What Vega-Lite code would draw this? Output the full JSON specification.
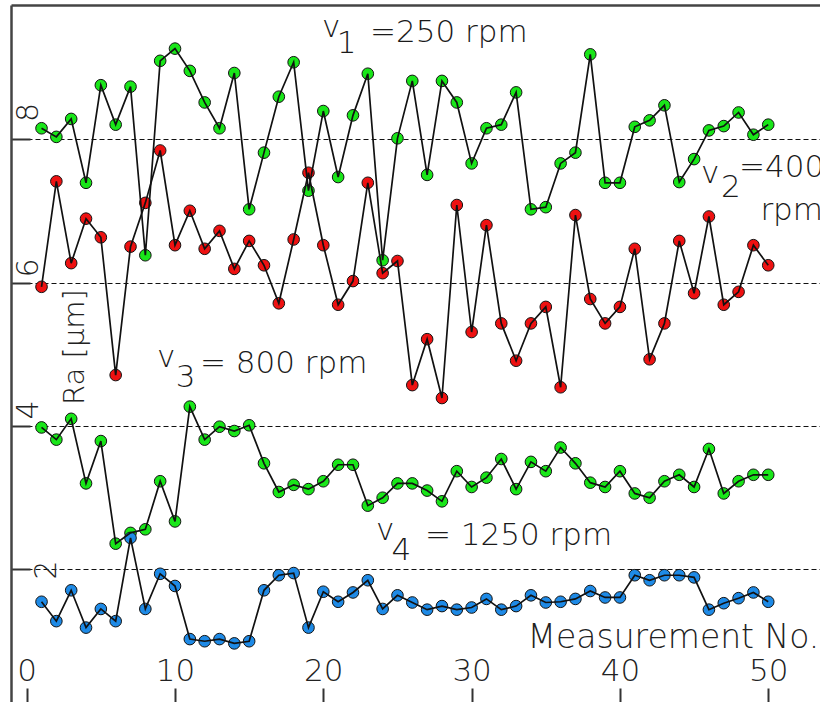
{
  "$schema": "https://vega.github.io/schema/vega-lite/v6.json",
  "width": 809,
  "height": 697,
  "autosize": {"type": "none"},
  "padding": {"left": 11, "top": 5, "right": 0, "bottom": 0},
  "background": "white",
  "config": {"view": {"stroke": null}, "font": "DejaVu Sans"},
  "datasets": {
    "series": [
      {"s":"v1","n":1,"v":8.15},{"s":"v1","n":2,"v":8.03},{"s":"v1","n":3,"v":8.28},{"s":"v1","n":4,"v":7.39},{"s":"v1","n":5,"v":8.75},
      {"s":"v1","n":6,"v":8.20},{"s":"v1","n":7,"v":8.73},{"s":"v1","n":8,"v":6.38},{"s":"v1","n":9,"v":9.09},{"s":"v1","n":10,"v":9.26},
      {"s":"v1","n":11,"v":8.95},{"s":"v1","n":12,"v":8.51},{"s":"v1","n":13,"v":8.15},{"s":"v1","n":14,"v":8.92},{"s":"v1","n":15,"v":7.02},
      {"s":"v1","n":16,"v":7.81},{"s":"v1","n":17,"v":8.59},{"s":"v1","n":18,"v":9.07},{"s":"v1","n":19,"v":7.28},{"s":"v1","n":20,"v":8.39},
      {"s":"v1","n":21,"v":7.47},{"s":"v1","n":22,"v":8.33},{"s":"v1","n":23,"v":8.91},{"s":"v1","n":24,"v":6.31},{"s":"v1","n":25,"v":8.01},
      {"s":"v1","n":26,"v":8.81},{"s":"v1","n":27,"v":7.50},{"s":"v1","n":28,"v":8.81},{"s":"v1","n":29,"v":8.51},{"s":"v1","n":30,"v":7.66},
      {"s":"v1","n":31,"v":8.15},{"s":"v1","n":32,"v":8.20},{"s":"v1","n":33,"v":8.65},{"s":"v1","n":34,"v":7.02},{"s":"v1","n":35,"v":7.05},
      {"s":"v1","n":36,"v":7.66},{"s":"v1","n":37,"v":7.81},{"s":"v1","n":38,"v":9.18},{"s":"v1","n":39,"v":7.39},{"s":"v1","n":40,"v":7.39},
      {"s":"v1","n":41,"v":8.17},{"s":"v1","n":42,"v":8.26},{"s":"v1","n":43,"v":8.47},{"s":"v1","n":44,"v":7.40},{"s":"v1","n":45,"v":7.72},
      {"s":"v1","n":46,"v":8.12},{"s":"v1","n":47,"v":8.18},{"s":"v1","n":48,"v":8.37},{"s":"v1","n":49,"v":8.06},{"s":"v1","n":50,"v":8.20},

      {"s":"v2","n":1,"v":5.94},{"s":"v2","n":2,"v":7.41},{"s":"v2","n":3,"v":6.27},{"s":"v2","n":4,"v":6.89},{"s":"v2","n":5,"v":6.63},
      {"s":"v2","n":6,"v":4.71},{"s":"v2","n":7,"v":6.50},{"s":"v2","n":8,"v":7.11},{"s":"v2","n":9,"v":7.84},{"s":"v2","n":10,"v":6.52},
      {"s":"v2","n":11,"v":7.00},{"s":"v2","n":12,"v":6.47},{"s":"v2","n":13,"v":6.72},{"s":"v2","n":14,"v":6.19},{"s":"v2","n":15,"v":6.58},
      {"s":"v2","n":16,"v":6.24},{"s":"v2","n":17,"v":5.71},{"s":"v2","n":18,"v":6.60},{"s":"v2","n":19,"v":7.53},{"s":"v2","n":20,"v":6.52},
      {"s":"v2","n":21,"v":5.69},{"s":"v2","n":22,"v":6.02},{"s":"v2","n":23,"v":7.39},{"s":"v2","n":24,"v":6.13},{"s":"v2","n":25,"v":6.30},
      {"s":"v2","n":26,"v":4.57},{"s":"v2","n":27,"v":5.21},{"s":"v2","n":28,"v":4.39},{"s":"v2","n":29,"v":7.08},{"s":"v2","n":30,"v":5.31},
      {"s":"v2","n":31,"v":6.80},{"s":"v2","n":32,"v":5.43},{"s":"v2","n":33,"v":4.91},{"s":"v2","n":34,"v":5.43},{"s":"v2","n":35,"v":5.66},
      {"s":"v2","n":36,"v":4.54},{"s":"v2","n":37,"v":6.94},{"s":"v2","n":38,"v":5.77},{"s":"v2","n":39,"v":5.43},{"s":"v2","n":40,"v":5.66},
      {"s":"v2","n":41,"v":6.47},{"s":"v2","n":42,"v":4.93},{"s":"v2","n":43,"v":5.43},{"s":"v2","n":44,"v":6.58},{"s":"v2","n":45,"v":5.85},
      {"s":"v2","n":46,"v":6.92},{"s":"v2","n":47,"v":5.69},{"s":"v2","n":48,"v":5.87},{"s":"v2","n":49,"v":6.52},{"s":"v2","n":50,"v":6.24},

      {"s":"v3","n":1,"v":3.98},{"s":"v3","n":2,"v":3.81},{"s":"v3","n":3,"v":4.10},{"s":"v3","n":4,"v":3.20},{"s":"v3","n":5,"v":3.79},
      {"s":"v3","n":6,"v":2.36},{"s":"v3","n":7,"v":2.51},{"s":"v3","n":8,"v":2.56},{"s":"v3","n":9,"v":3.23},{"s":"v3","n":10,"v":2.67},
      {"s":"v3","n":11,"v":4.27},{"s":"v3","n":12,"v":3.81},{"s":"v3","n":13,"v":3.99},{"s":"v3","n":14,"v":3.93},{"s":"v3","n":15,"v":4.01},
      {"s":"v3","n":16,"v":3.48},{"s":"v3","n":17,"v":3.08},{"s":"v3","n":18,"v":3.18},{"s":"v3","n":19,"v":3.12},{"s":"v3","n":20,"v":3.23},
      {"s":"v3","n":21,"v":3.46},{"s":"v3","n":22,"v":3.46},{"s":"v3","n":23,"v":2.89},{"s":"v3","n":24,"v":3.00},{"s":"v3","n":25,"v":3.20},
      {"s":"v3","n":26,"v":3.20},{"s":"v3","n":27,"v":3.10},{"s":"v3","n":28,"v":2.95},{"s":"v3","n":29,"v":3.37},{"s":"v3","n":30,"v":3.15},
      {"s":"v3","n":31,"v":3.28},{"s":"v3","n":32,"v":3.54},{"s":"v3","n":33,"v":3.12},{"s":"v3","n":34,"v":3.50},{"s":"v3","n":35,"v":3.37},
      {"s":"v3","n":36,"v":3.70},{"s":"v3","n":37,"v":3.48},{"s":"v3","n":38,"v":3.21},{"s":"v3","n":39,"v":3.15},{"s":"v3","n":40,"v":3.37},
      {"s":"v3","n":41,"v":3.06},{"s":"v3","n":42,"v":3.00},{"s":"v3","n":43,"v":3.23},{"s":"v3","n":44,"v":3.32},{"s":"v3","n":45,"v":3.15},
      {"s":"v3","n":46,"v":3.68},{"s":"v3","n":47,"v":3.06},{"s":"v3","n":48,"v":3.23},{"s":"v3","n":49,"v":3.32},{"s":"v3","n":50,"v":3.32},

      {"s":"v4","n":1,"v":1.55},{"s":"v4","n":2,"v":1.28},{"s":"v4","n":3,"v":1.71},{"s":"v4","n":4,"v":1.19},{"s":"v4","n":5,"v":1.45},
      {"s":"v4","n":6,"v":1.28},{"s":"v4","n":7,"v":2.44},{"s":"v4","n":8,"v":1.45},{"s":"v4","n":9,"v":1.94},{"s":"v4","n":10,"v":1.77},
      {"s":"v4","n":11,"v":1.03},{"s":"v4","n":12,"v":1.00},{"s":"v4","n":13,"v":1.03},{"s":"v4","n":14,"v":0.97},{"s":"v4","n":15,"v":1.00},
      {"s":"v4","n":16,"v":1.71},{"s":"v4","n":17,"v":1.92},{"s":"v4","n":18,"v":1.95},{"s":"v4","n":19,"v":1.19},{"s":"v4","n":20,"v":1.69},
      {"s":"v4","n":21,"v":1.55},{"s":"v4","n":22,"v":1.68},{"s":"v4","n":23,"v":1.85},{"s":"v4","n":24,"v":1.45},{"s":"v4","n":25,"v":1.64},
      {"s":"v4","n":26,"v":1.54},{"s":"v4","n":27,"v":1.44},{"s":"v4","n":28,"v":1.49},{"s":"v4","n":29,"v":1.44},{"s":"v4","n":30,"v":1.47},
      {"s":"v4","n":31,"v":1.59},{"s":"v4","n":32,"v":1.44},{"s":"v4","n":33,"v":1.49},{"s":"v4","n":34,"v":1.64},{"s":"v4","n":35,"v":1.54},
      {"s":"v4","n":36,"v":1.55},{"s":"v4","n":37,"v":1.59},{"s":"v4","n":38,"v":1.70},{"s":"v4","n":39,"v":1.61},{"s":"v4","n":40,"v":1.61},
      {"s":"v4","n":41,"v":1.92},{"s":"v4","n":42,"v":1.85},{"s":"v4","n":43,"v":1.92},{"s":"v4","n":44,"v":1.92},{"s":"v4","n":45,"v":1.89},
      {"s":"v4","n":46,"v":1.44},{"s":"v4","n":47,"v":1.53},{"s":"v4","n":48,"v":1.60},{"s":"v4","n":49,"v":1.68},{"s":"v4","n":50,"v":1.55}
    ],
    "notes": [
      {"t":"v","ax":19.91,"ay":9.422},
      {"t":"1","ax":20.91,"ay":9.199},
      {"t":"=250 rpm","ax":23.15,"ay":9.352},
      {"t":"v","ax":45.46,"ay":7.387},
      {"t":"2","ax":46.81,"ay":7.192},
      {"t":"=400","ax":48.03,"ay":7.470},
      {"t":"rpm","ax":49.47,"ay":6.871},
      {"t":"v","ax":8.785,"ay":4.822},
      {"t":"3","ax":10.05,"ay":4.544},
      {"t":"= 800 rpm","ax":11.68,"ay":4.739},
      {"t":"v","ax":23.55,"ay":2.411},
      {"t":"4","ax":24.6,"ay":2.132},
      {"t":"= 1250 rpm","ax":26.855,"ay":2.342}
    ]
  },
  "resolve": {"axis": {"x": "independent"}},
  "layer": [
    {
      "data": {"name": "series"},
      "mark": {"type": "point", "shape": "circle", "filled": true, "size": 135, "stroke": "#111", "strokeWidth": 1, "opacity": 1},
      "encoding": {
        "x": {
          "field": "n", "type": "quantitative",
          "scale": {"domain": [-1.058, 53.49], "nice": false, "zero": false},
          "axis": {
            "orient": "bottom", "values": [0, 10, 20, 30, 40, 50], "domain": false,
            "ticks": true, "tickSize": -14, "tickWidth": 2, "tickColor": "#333",
            "grid": false,
            "labelFontSize": 31, "labelFontWeight": 200, "labelColor": "#222", "labelAlign": "center", "labelBaseline": "alphabetic",
            "labelPadding": -8, "labelFlush": false, "labelOverlap": false, "labelBound": false,
            "title": "Measurement No.", "titleFontSize": 33, "titleFontWeight": 200, "titleColor": "#222",
            "titleX": 516, "titleY": -55, "titleAlign": "left", "titleBaseline": "alphabetic"
          }
        },
        "y": {
          "field": "v", "type": "quantitative", "title": "Ra [µm]",
          "scale": {"domain": [0.153, 9.868], "nice": false, "zero": false},
          "axis": {
            "orient": "left", "values": [2, 4, 6, 8], "format": "d",
            "domain": true, "domainColor": "#444", "domainWidth": 2.5,
            "ticks": true, "tickSize": -19, "tickWidth": 2, "tickColor": "#333",
            "grid": true, "gridDash": [5, 3], "gridColor": "#111", "gridWidth": 1,
            "labelAngle": 270, "labelFontSize": 30, "labelFontWeight": 200, "labelColor": "#222", "labelAlign": "center", "labelBaseline": "middle",
            "labelPadding": {"condition": {"test": "datum.value == 2", "value": -16.5}, "value": 1.5},
            "labelOffset": {"condition": [
              {"test": "datum.value == 8", "value": -27},
              {"test": "datum.value == 6", "value": -15},
              {"test": "datum.value == 2", "value": 0}
            ], "value": -16.5},
            "labelBound": false, "labelFlush": false, "labelOverlap": false,
            "title": "Ra [µm]", "titleAngle": 270, "titleFontSize": 29, "titleFontWeight": 200, "titleColor": "#222",
            "titleX": 72, "titleY": 341.5, "titleAlign": "center", "titleBaseline": "alphabetic"
          }
        },
        "fill": {
          "field": "s", "type": "nominal",
          "scale": {"domain": ["v1", "v2", "v3", "v4"], "range": ["#19e619", "#ee1111", "#19e619", "#1e8ae6"]},
          "legend": null
        }
      }
    },
    {
      "data": {"name": "series"},
      "mark": {"type": "line", "color": "#111", "strokeWidth": 1.7},
      "encoding": {
        "x": {"field": "n", "type": "quantitative", "scale": {"domain": [-1.058, 53.49], "nice": false, "zero": false}, "axis": null},
        "y": {"field": "v", "type": "quantitative", "title": "Ra [µm]", "scale": {"domain": [0.153, 9.868], "nice": false, "zero": false}},
        "detail": {"field": "s", "type": "nominal"}
      }
    },
    {
      "data": {"name": "notes"},
      "mark": {"type": "text", "align": "left", "baseline": "alphabetic", "fontSize": 31, "fontWeight": 200, "color": "#1a1a1a", "font": "DejaVu Sans"},
      "encoding": {
        "x": {
          "field": "ax", "type": "quantitative",
          "scale": {"domain": [-1.058, 53.49], "nice": false, "zero": false},
          "axis": {"orient": "top", "domain": true, "domainColor": "#444", "domainWidth": 2.5, "ticks": false, "labels": false, "grid": false, "title": null}
        },
        "y": {"field": "ay", "type": "quantitative", "title": "Ra [µm]", "scale": {"domain": [0.153, 9.868], "nice": false, "zero": false}},
        "text": {"field": "t"}
      }
    }
  ]
}
